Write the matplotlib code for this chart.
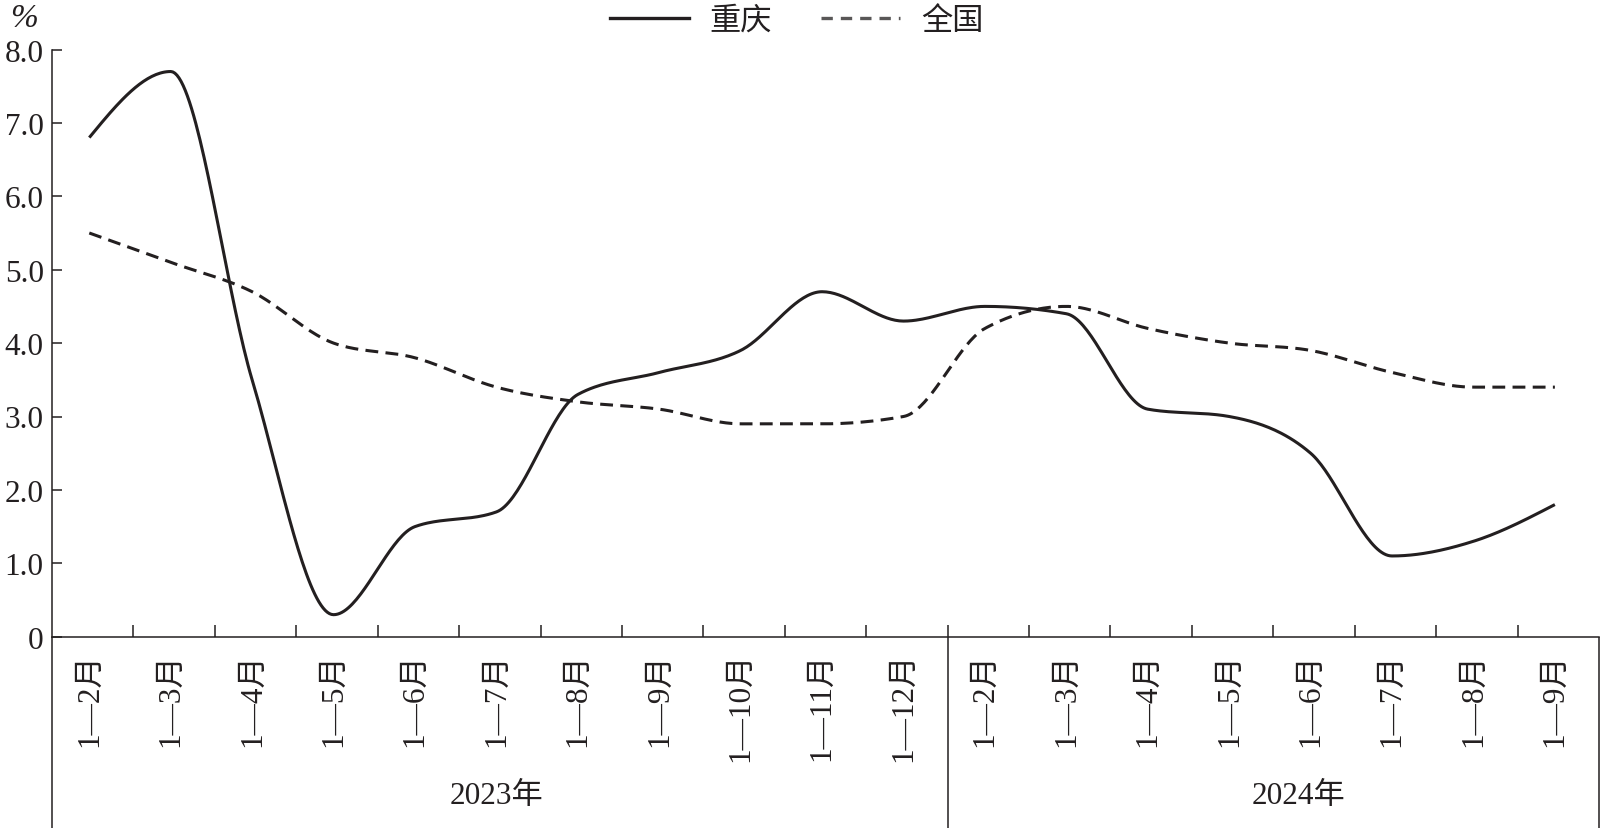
import numpy as np
import matplotlib
matplotlib.use("Agg")
import matplotlib.pyplot as plt
from matplotlib.lines import Line2D

# ---------------- data ----------------
months_2023 = ["1—2月", "1—3月", "1—4月", "1—5月", "1—6月", "1—7月",
               "1—8月", "1—9月", "1—10月", "1—11月", "1—12月"]
months_2024 = ["1—2月", "1—3月", "1—4月", "1—5月", "1—6月", "1—7月",
               "1—8月", "1—9月"]
years = ["2023年", "2024年"]
chongqing = [6.8, 7.7, 3.5, 0.3, 1.5, 1.7, 3.3, 3.6, 3.9, 4.7, 4.3,
             4.5, 4.4, 3.1, 3.0, 2.5, 1.1, 1.3, 1.8]
national = [5.5, 5.1, 4.7, 4.0, 3.8, 3.4, 3.2, 3.1, 2.9, 2.9, 3.0,
            4.2, 4.5, 4.2, 4.0, 3.9, 3.6, 3.4, 3.4]
series_names = ["重庆", "全国"]
yticks = [0, 1, 2, 3, 4, 5, 6, 7, 8]
ytick_labels = ["0", "1.0", "2.0", "3.0", "4.0", "5.0", "6.0", "7.0", "8.0"]

# ---------------- style ----------------
INK = "#231f20"
FONT = ["Liberation Serif", "Noto Sans CJK SC"]
plt.rcParams["font.family"] = FONT
FS = 22.5


def monotone_curve(xs, ys, n=40):
    """Monotone cubic interpolation (d3 curveMonotoneX style) for line drawing."""
    xs = np.asarray(xs, float)
    ys = np.asarray(ys, float)
    h = np.diff(xs)
    s = np.diff(ys) / h
    m = np.zeros(len(xs))
    for i in range(1, len(xs) - 1):
        p = (s[i - 1] * h[i] + s[i] * h[i - 1]) / (h[i - 1] + h[i])
        m[i] = (np.sign(s[i - 1]) + np.sign(s[i])) * min(abs(s[i - 1]), abs(s[i]), 0.5 * abs(p))
    m[0] = (3 * s[0] - m[1]) / 2
    m[-1] = (3 * s[-1] - m[-2]) / 2
    out_x, out_y = [], []
    t = np.linspace(0, 1, n)
    for i in range(len(xs) - 1):
        h00 = 2 * t**3 - 3 * t**2 + 1
        h10 = t**3 - 2 * t**2 + t
        h01 = -2 * t**3 + 3 * t**2
        h11 = t**3 - t**2
        yy = h00 * ys[i] + h10 * h[i] * m[i] + h01 * ys[i + 1] + h11 * h[i] * m[i + 1]
        xx = xs[i] + t * h[i]
        if i > 0:
            xx, yy = xx[1:], yy[1:]
        out_x.append(xx)
        out_y.append(yy)
    return np.concatenate(out_x), np.concatenate(out_y)


W, H = 1601, 829
fig = plt.figure(figsize=(W / 100, H / 100), dpi=100)
ax_left, ax_right, ax_top, ax_bottom = 52, 1599, 50.5, 637.7
ax = fig.add_axes([ax_left / W, (H - ax_bottom) / H,
                   (ax_right - ax_left) / W, (ax_bottom - ax_top) / H])

labels = months_2023 + months_2024
n = len(labels)
x = np.arange(n)
shift = 0.458
ax.set_xlim(-shift, n - shift)
ax.set_ylim(0, 8)

cx, cy = monotone_curve(x, chongqing)
ax.plot(cx, cy, color=INK, lw=2.2, solid_capstyle="butt", zorder=3)
nx, ny = monotone_curve(x, national)
ax.plot(nx, ny, color=INK, lw=2.2, ls=(0, (4.2, 2.4)), zorder=3)

# spines
for sp in ["top", "right"]:
    ax.spines[sp].set_visible(False)
for sp in ["left", "bottom"]:
    ax.spines[sp].set_color(INK)
    ax.spines[sp].set_linewidth(1.1)

# y axis
ax.set_yticks(yticks)
ax.set_yticklabels(ytick_labels)
ax.tick_params(axis="y", direction="in", length=7, width=1.1, color=INK,
               labelsize=FS, pad=6, labelcolor=INK)

# x axis: ticks at band boundaries, labels at band centres
ax.set_xticks(np.arange(1, n) - shift)
ax.tick_params(axis="x", which="major", direction="in", length=8.5, width=1.1,
               color=INK, labelbottom=False)
ax.set_xticks(x, minor=True)
ax.set_xticklabels(labels, minor=True, rotation=90)
ax.tick_params(axis="x", which="minor", length=0, pad=11, labelsize=FS,
               labelcolor=INK)

# category group lines below the axis
trans = ax.get_xaxis_transform()
below = -(H - ax_bottom) / (ax_bottom - ax_top)
n23 = len(months_2023)
for xv in [-shift, n23 - shift, n - shift]:
    ax.plot([xv, xv], [0, below], transform=trans, color=INK, lw=1.1,
            clip_on=False, solid_capstyle="butt")

# year labels
year_pos = [(n23 - 1) / 2, n23 + (len(months_2024) - 1) / 2 + 0.35]
for yl, xp in zip(years, year_pos):
    ax.text(xp, -0.27, yl, transform=trans, ha="center", va="center",
            fontsize=FS, color=INK)

# unit label
fig.text(23.5 / W, 1 - 19 / H, "%", ha="center", va="center", fontsize=24,
         style="italic", color=INK)

# legend
handles = [Line2D([], [], color=INK, lw=2.4),
           Line2D([], [], color="#595757", lw=2.4, ls=(0, (3.4, 2.4)))]
fig.legend(handles, series_names, loc="center", bbox_to_anchor=(796.5 / W, 1 - 22.5 / H),
           ncol=2, frameon=False, fontsize=FS, handlelength=2.55,
           handletextpad=0.65, columnspacing=1.55, labelcolor=INK)

fig.savefig("out.png", dpi=100)
